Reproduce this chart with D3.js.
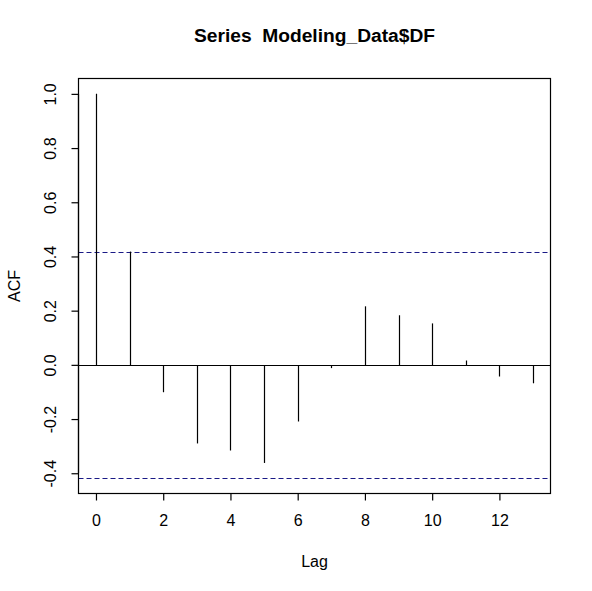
<!DOCTYPE html>
<html>
<head>
<meta charset="utf-8">
<script src="https://cdn.jsdelivr.net/npm/d3@7"></script>
<style>
  body { margin: 0; background: #fff; }
  svg { display: block; font-family: "Liberation Sans", Arial, sans-serif; }
  text { white-space: pre; }
</style>
</head>
<body>
<svg id="chart" width="592" height="591"></svg>
<script>
// acf values
var lags = [0, 1, 2, 3, 4, 5, 6, 7, 8, 9, 10, 11, 12, 13];
var acf = [1.0, 0.418, -0.101, -0.290, -0.316, -0.362, -0.209, -0.012, 0.216, 0.183, 0.153, 0.016, -0.043, -0.068];
var clim = 0.418;
var xTicks = [0, 2, 4, 6, 8, 10, 12];
var yTicks = [-0.4, -0.2, 0.0, 0.2, 0.4, 0.6, 0.8, 1.0];

var plotL = 78.5, plotR = 550.5, plotT = 78.5, plotB = 493.5;

var svg = d3.select("#chart");

// plain hyphen for negatives, like R
var fmt = d3.formatLocale({decimal: ".", thousands: ",", grouping: [3], currency: ["", ""], minus: "-"});

// R style 4% padding on both axes
var xr = d3.extent(lags), xpad = (xr[1] - xr[0]) * 0.04;
var yr = d3.extent(acf.concat([clim, -clim])), ypad = (yr[1] - yr[0]) * 0.04;

var x = d3.scaleLinear().domain([xr[0] - xpad, xr[1] + xpad]).range([plotL, plotR]);
var y = d3.scaleLinear().domain([yr[0] - ypad, yr[1] + ypad]).range([plotB, plotT]);

// zero line
svg.append("line")
  .attr("x1", plotL).attr("x2", plotR)
  .attr("y1", Math.round(y(0)) + 0.5).attr("y2", Math.round(y(0)) + 0.5)
  .attr("stroke", "#000").attr("stroke-width", 1.2);

// confidence bounds
[clim, -clim].forEach(function(c) {
  svg.append("line")
    .attr("x1", plotL).attr("x2", plotR)
    .attr("y1", Math.round(y(c)) + 0.5).attr("y2", Math.round(y(c)) + 0.5)
    .attr("stroke", "#1a1a86").attr("stroke-width", 1.2)
    .attr("stroke-dasharray", "5,3");
});

// spikes
svg.selectAll("line.spike")
  .data(lags)
  .enter()
  .append("line")
  .attr("class", "spike")
  .attr("x1", function(d) { return Math.round(x(d)) + 0.5; })
  .attr("x2", function(d) { return Math.round(x(d)) + 0.5; })
  .attr("y1", Math.round(y(0)) + 0.5)
  .attr("y2", function(d, i) { return y(acf[i]); })
  .attr("stroke", "#000").attr("stroke-width", 1.2);

// box
svg.append("rect")
  .attr("x", plotL).attr("y", plotT)
  .attr("width", plotR - plotL).attr("height", plotB - plotT)
  .attr("fill", "none").attr("stroke", "#000").attr("stroke-width", 1.2);

// x axis
var xAxis = d3.axisBottom(x).tickValues(xTicks).tickSize(7).tickPadding(14).tickFormat(fmt.format("d"));
var gx = svg.append("g").attr("transform", "translate(0," + plotB + ")").call(xAxis);
gx.select(".domain")
  .attr("d", "M" + x(xTicks[0]) + ",0H" + x(xTicks[xTicks.length - 1]));

// y axis
var yAxis = d3.axisLeft(y).tickValues(yTicks).tickSize(7).tickFormat(fmt.format(".1f"));
var gy = svg.append("g").attr("transform", "translate(" + plotL + ",0)").call(yAxis);
gy.select(".domain")
  .attr("d", "M0," + y(yTicks[0]) + "V" + y(yTicks[yTicks.length - 1]));
gy.selectAll(".tick text")
  .attr("x", null).attr("dy", null)
  .attr("text-anchor", "middle")
  .attr("transform", "translate(-23,0) rotate(-90)");

svg.selectAll(".tick text")
  .attr("font-size", 16).attr("font-family", "Liberation Sans, Arial, sans-serif").attr("fill", "#000");
svg.selectAll(".tick line, .domain").attr("stroke", "#000").attr("stroke-width", 1.2);

// titles
svg.append("text")
  .attr("x", (plotL + plotR) / 2).attr("y", 42)
  .attr("text-anchor", "middle")
  .attr("font-size", 19.2).attr("font-weight", "bold")
  .text("Series  Modeling_Data$DF");

svg.append("text")
  .attr("x", (plotL + plotR) / 2).attr("y", 567)
  .attr("text-anchor", "middle")
  .attr("font-size", 16)
  .text("Lag");

svg.append("text")
  .attr("transform", "translate(20," + ((plotT + plotB) / 2) + ") rotate(-90)")
  .attr("text-anchor", "middle")
  .attr("font-size", 16)
  .text("ACF");
</script>
</body>
</html>
